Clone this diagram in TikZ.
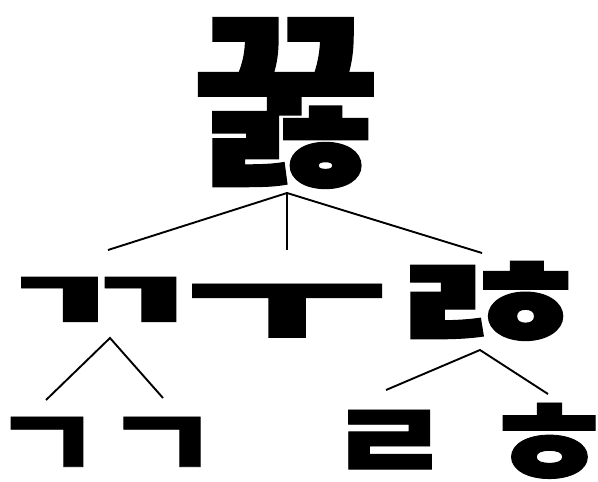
\documentclass[tikz,border=0pt]{standalone}
\usepackage{fontspec}
\usepackage{graphicx}
\newfontfamily\kr{Noto Sans CJK KR}[BoldFeatures={FakeBold=0.7}]
\newcommand{\jamo}[3]{\resizebox{#1pt}{#2pt}{\kr\bfseries #3}}

\begin{document}
\begin{tikzpicture}[x=1pt,y=-1pt,
    jamo/.style={inner sep=0pt, outer sep=0pt},
    branch/.style={line width=1.9pt}]
    \useasboundingbox (0,0) rectangle (598,482);

    % syllable
    \node[jamo] (kkulh) at (286,103) {\jamo{189}{153}{꿇}};

    % first split
    \node[jamo] (kk) at (100,305) {\jamo{194}{56}{ㄲ}};
    \node[jamo] (u) at (287,313) {\jamo{204}{58}{ㅜ}};
    \node[jamo] (lh) at (484,309) {\jamo{191}{96}{ㅀ}};

    % second split
    \node[jamo] (g1) at (47,448) {\jamo{110}{62}{ㄱ}};
    \node[jamo] (g2) at (162,448) {\jamo{117}{62}{ㄱ}};
    \node[jamo] (r) at (390,447) {\jamo{124}{74}{ㄹ}};
    \node[jamo] (h) at (549,445) {\jamo{137}{84}{ㅎ}};

    % branch points
    \coordinate (kkulh-foot) at (287,193);
    \coordinate (kk-top) at (108,250);
    \coordinate (u-top) at (287,250);
    \coordinate (lh-top) at (482,253);
    \coordinate (kk-foot) at (110,338);
    \coordinate (g1-top) at (46,400);
    \coordinate (g2-top) at (163,398);
    \coordinate (lh-foot) at (480,350);
    \coordinate (r-top) at (386,390);
    \coordinate (h-top) at (548,394);

    \draw[branch] (kk-top) -- (kkulh-foot) -- (lh-top);
    \draw[branch] (kkulh-foot) -- (u-top);
    \draw[branch] (g1-top) -- (kk-foot) -- (g2-top);
    \draw[branch] (r-top) -- (lh-foot) -- (h-top);
\end{tikzpicture}
\end{document}
